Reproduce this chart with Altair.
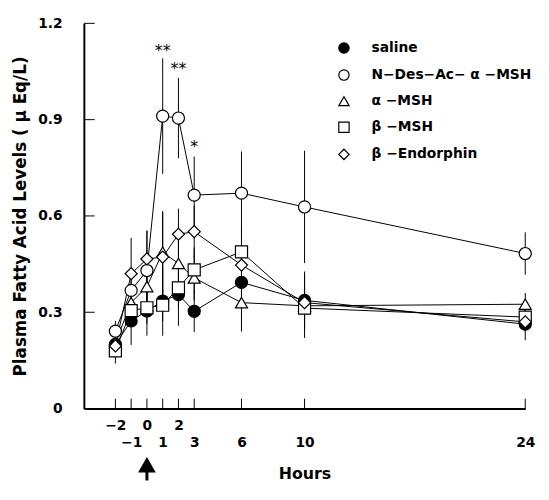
import altair as alt
import pandas as pd

# ---- data ----
hours = [-2, -1, 0, 1, 2, 3, 6, 10, 24]
series_names = ["saline", "N−Des−Ac− α −MSH", "α −MSH", "β −MSH", "β −Endorphin"]

saline = [0.200, 0.273, 0.304, 0.335, 0.355, 0.303, 0.393, 0.337, 0.263]
saline_err = [0.030, 0.075, 0.077, 0.108, 0.097, 0.065, 0.150, 0.090, 0.050]
ndes = [0.241, 0.368, 0.430, 0.911, 0.905, 0.665, 0.671, 0.628, 0.483]
ndes_err = [0.032, 0.050, 0.124, 0.180, 0.125, 0.120, 0.130, 0.175, 0.066]
amsh = [0.205, 0.330, 0.380, 0.487, 0.452, 0.407, 0.330, 0.320, 0.325]
amsh_err = [0.030, 0.050, 0.060, 0.128, 0.090, 0.070, 0.090, 0.100, 0.035]
bmsh = [0.180, 0.305, 0.314, 0.322, 0.376, 0.432, 0.488, 0.313, 0.285]
bmsh_err = [0.040, 0.040, 0.050, 0.050, 0.060, 0.070, 0.070, 0.050, 0.030]
bend = [0.195, 0.420, 0.466, 0.472, 0.543, 0.551, 0.447, 0.330, 0.270]
bend_err = [0.030, 0.112, 0.088, 0.140, 0.080, 0.080, 0.060, 0.050, 0.030]

star_hours = [1, 2, 3]
star_values = [1.117, 1.062, 0.817]
star_text = ["**", "**", "*"]

y_ticks = [0.3, 0.6, 0.9, 1.2]
arrow_hour = [0]

# ---- build table ----
rows = []
for name, vals, errs in zip(series_names,
                            [saline, ndes, amsh, bmsh, bend],
                            [saline_err, ndes_err, amsh_err, bmsh_err, bend_err]):
    for h, v, e in zip(hours, vals, errs):
        rows.append({"series": name, "hours": h, "value": v, "lo": v - e, "hi": v + e})
df = pd.DataFrame(rows)

W, H = 448, 391
FONT = "DejaVu Sans"

xscale = alt.Scale(domain=[-4, 24], nice=False, zero=False)
yscale = alt.Scale(domain=[0, 1.2], nice=False, zero=False)

xaxis = alt.Axis(
    values=hours, ticks=False, grid=False,
    domainColor="black", domainWidth=2,
    labelFont=FONT, labelFontWeight="bold", labelFontSize=14, labelColor="black",
    labelFlush=False, labelOverlap=False,
    labelPadding={"condition": {"test": "indexof([-2, 0, 2], datum.value) >= 0", "value": 10},
                  "value": 28},
    title="Hours", titleFont=FONT, titleFontWeight="bold", titleFontSize=16,
    titleColor="black", titlePadding=16,
)
yaxis = alt.Axis(
    values=[0, 0.3, 0.6, 0.9, 1.2], ticks=False, grid=False,
    domainColor="black", domainWidth=2,
    labelFont=FONT, labelFontWeight="bold", labelFontSize=14, labelColor="black",
    labelFlush=False, labelOverlap=False, labelPadding=22,
    labelExpr="datum.value == 0 ? '0' : format(datum.value, '.1f')",
    title="Plasma Fatty Acid Levels ( μ Eq/L)", titleFont=FONT, titleFontWeight="bold",
    titleFontSize=17, titleColor="black", titlePadding=8,
)

X = alt.X("hours:Q", scale=xscale, axis=xaxis)
Y = alt.Y("value:Q", scale=yscale, axis=yaxis)

legend = alt.Legend(
    title=None, orient="none", legendX=257, legendY=18, padding=0,
    labelFont=FONT, labelFontWeight="bold", labelFontSize=14, labelColor="black",
    labelOffset=21, rowPadding=11.5, symbolSize=110, symbolStrokeColor="black",
    symbolStrokeWidth=1.2, labelLimit=300,
)

base = alt.Chart(df)

errbars = base.mark_rule(color="black", strokeWidth=1).encode(
    x=X, y=alt.Y("lo:Q", scale=yscale, axis=yaxis), y2="hi:Q"
)

lines = base.mark_line(color="black", strokeWidth=1).encode(
    x=X, y=Y, detail="series:N"
)

points = base.mark_point(filled=True, strokeWidth=1.2, opacity=1, size=150).encode(
    x=X, y=Y,
    shape=alt.Shape("series:N",
                    scale=alt.Scale(domain=series_names,
                                    range=["circle", "circle", "triangle-up", "square", "diamond"]),
                    legend=legend),
    fill=alt.Fill("series:N",
                  scale=alt.Scale(domain=series_names,
                                  range=["black", "white", "white", "white", "white"]),
                  legend=legend),
    stroke=alt.Stroke("series:N",
                      scale=alt.Scale(domain=series_names,
                                      range=["black", "black", "black", "black", "black"]),
                      legend=legend),
)

stars = alt.Chart(pd.DataFrame({"hours": star_hours, "value": star_values, "t": star_text})).mark_text(
    font="DejaVu Sans", fontSize=16, color="black", baseline="middle", align="center", dy=1
).encode(x=X, y=Y, text="t:N")

xt = alt.Chart(pd.DataFrame({"hours": hours})).mark_rule(color="black", strokeWidth=1).encode(
    x=X, y=alt.value(H), y2=alt.value(H - 10)
)
yt = alt.Chart(pd.DataFrame({"value": y_ticks})).mark_rule(color="black", strokeWidth=1).encode(
    y=Y, x=alt.value(0), x2=alt.value(11)
)

arrow_df = pd.DataFrame({"hours": arrow_hour})
arrow_head = alt.Chart(arrow_df).mark_point(
    shape="triangle-up", filled=True, color="black", size=324, opacity=1
).encode(x=X, y=alt.value(H + 57))
arrow_shaft = alt.Chart(arrow_df).mark_rule(color="black", strokeWidth=3).encode(
    x=X, y=alt.value(H + 60), y2=alt.value(H + 73)
)

chart = alt.layer(errbars, lines, points, stars, xt, yt, arrow_head, arrow_shaft).properties(
    width=W, height=H,
    padding={"left": 77, "top": 12, "right": 16, "bottom": 73},
    autosize=alt.AutoSizeParams(type="none"),
    background="white",
).configure_view(stroke=None)

chart.save("out.html", embed_options={"renderer": "svg", "actions": False})
